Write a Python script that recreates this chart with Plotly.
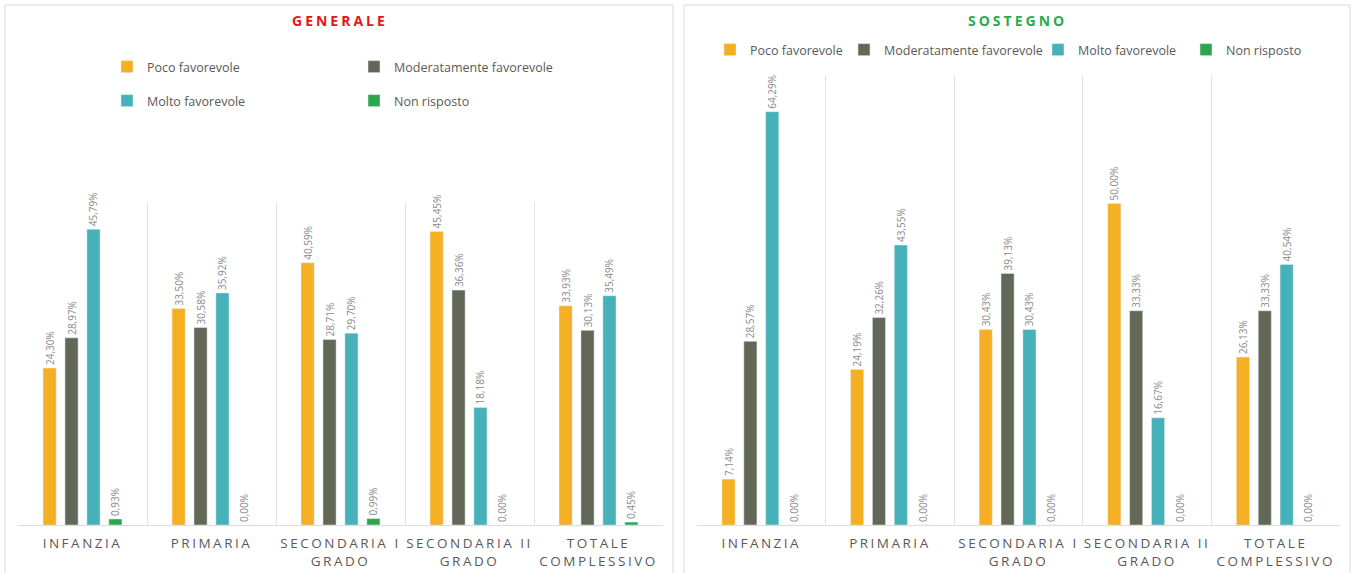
import plotly.graph_objects as go

categories = ["INFANZIA", "PRIMARIA", "SECONDARIA I<br>GRADO", "SECONDARIA II<br>GRADO", "TOTALE<br>COMPLESSIVO"]
series_names = ["Poco favorevole", "Moderatamente favorevole", "Molto favorevole", "Non risposto"]

gen_poco = [24.30, 33.50, 40.59, 45.45, 33.93]
gen_moderatamente = [28.97, 30.58, 28.71, 36.36, 30.13]
gen_molto = [45.79, 35.92, 29.70, 18.18, 35.49]
gen_non_risposto = [0.93, 0.00, 0.99, 0.00, 0.45]

sos_poco = [7.14, 24.19, 30.43, 50.00, 26.13]
sos_moderatamente = [28.57, 32.26, 39.13, 33.33, 33.33]
sos_molto = [64.29, 43.55, 30.43, 16.67, 40.54]
sos_non_risposto = [0.00, 0.00, 0.00, 0.00, 0.00]

colors = ["#F5AF22", "#636856", "#46B1B8", "#2DA64B"]
FONT = "Open Sans"

def fmt(vals):
    return [f"{v:.2f}".replace(".", ",") + "%" for v in vals]

W, H = 1354, 573
def px_x(p): return p / W
def px_y(p): return 1 - p / H

fig = go.Figure()

gen = [gen_poco, gen_moderatamente, gen_molto, gen_non_risposto]
sos = [sos_poco, sos_moderatamente, sos_molto, sos_non_risposto]

# legend placement (pixel position where each legend text starts, and row centre)
gen_leg_pos = [(147, 67), (394, 67), (147, 101), (394, 101)]
sos_leg_pos = [(750, 50), (884, 50), (1078, 50), (1226, 50)]

legend_common = dict(orientation="h", xanchor="left", yanchor="middle",
                     font=dict(size=12.5, color="#595959", family=FONT),
                     bgcolor="rgba(0,0,0,0)", itemwidth=30)

legend_layout = {}
for i, (name, vals) in enumerate(zip(series_names, gen)):
    lg = "legend" if i == 0 else f"legend{i + 1}"
    fig.add_trace(go.Bar(
        x=categories, y=vals, name=name, marker_color=colors[i],
        text=fmt(vals), textposition="outside", textangle=-90,
        textfont=dict(size=10, color="#8a8a8a", family=FONT),
        constraintext="none", cliponaxis=False,
        xaxis="x", yaxis="y", legend=lg,
    ))
    lx, ly = gen_leg_pos[i]
    legend_layout[lg] = dict(x=px_x(lx - 40), y=px_y(ly), **legend_common)

for i, (name, vals) in enumerate(zip(series_names, sos)):
    lg = f"legend{i + 5}"
    fig.add_trace(go.Bar(
        x=categories, y=vals, name=name, marker_color=colors[i],
        text=fmt(vals), textposition="outside", textangle=-90,
        textfont=dict(size=10, color="#8a8a8a", family=FONT),
        constraintext="none", cliponaxis=False,
        xaxis="x2", yaxis="y2", legend=lg,
    ))
    lx, ly = sos_leg_pos[i]
    legend_layout[lg] = dict(x=px_x(lx - 40), y=px_y(ly), **legend_common)

xaxis_common = dict(
    type="category", tickson="boundaries", showgrid=True, gridcolor="#e3e3e3", gridwidth=1,
    showline=True, linecolor="#dcdcdc", ticks="", automargin=False, ticklabelstandoff=6,
    tickfont=dict(size=13.5, color="#595959", family=FONT),
)
yaxis_common = dict(showgrid=False, showticklabels=False, zeroline=False, showline=False,
                    automargin=False, fixedrange=True)

fig.update_layout(
    width=W, height=H,
    margin=dict(l=0, r=0, t=0, b=0),
    paper_bgcolor="white", plot_bgcolor="white",
    barmode="group", bargap=0.32, bargroupgap=0.4,
    font=dict(family=FONT),
    xaxis=dict(domain=[px_x(18), px_x(663)], anchor="y", **xaxis_common),
    yaxis=dict(domain=[px_y(525), px_y(202)], range=[0, 50], anchor="x", **yaxis_common),
    xaxis2=dict(domain=[px_x(697), px_x(1340)], anchor="y2", **xaxis_common),
    yaxis2=dict(domain=[px_y(525), px_y(75)], range=[0, 70], anchor="x2", **yaxis_common),
    showlegend=True,
    annotations=[
        dict(text="<b>GENERALE</b>", x=px_x(340), y=px_y(21), xref="paper", yref="paper",
             xanchor="center", yanchor="middle",
             showarrow=False, font=dict(size=14, color="#E8141B", family=FONT)),
        dict(text="<b>SOSTEGNO</b>", x=px_x(1017), y=px_y(21), xref="paper", yref="paper",
             xanchor="center", yanchor="middle",
             showarrow=False, font=dict(size=14, color="#2DAA4F", family=FONT)),
    ],
    shapes=[
        dict(type="rect", xref="paper", yref="paper", x0=px_x(5), x1=px_x(673), y0=-0.05, y1=px_y(5),
             line=dict(color="#d9d9d9", width=1), fillcolor="rgba(0,0,0,0)", layer="below"),
        dict(type="rect", xref="paper", yref="paper", x0=px_x(684), x1=px_x(1350), y0=-0.05, y1=px_y(5),
             line=dict(color="#d9d9d9", width=1), fillcolor="rgba(0,0,0,0)", layer="below"),
    ],
    **legend_layout,
)

post_script = """
document.body.style.margin = '0';
document.body.style.overflow = 'hidden';
var gd = document.getElementById('{plot_id}');
function applySpacing() {
  gd.querySelectorAll('.xtick text, .x2tick text').forEach(function(t) { t.style.letterSpacing = '2.5px'; });
  gd.querySelectorAll('.annotation-text').forEach(function(t) { t.style.letterSpacing = '3px'; });
}
applySpacing();
gd.on('plotly_afterplot', applySpacing);
"""

fig.write_html("out.html", post_script=post_script, config={"displayModeBar": False})
